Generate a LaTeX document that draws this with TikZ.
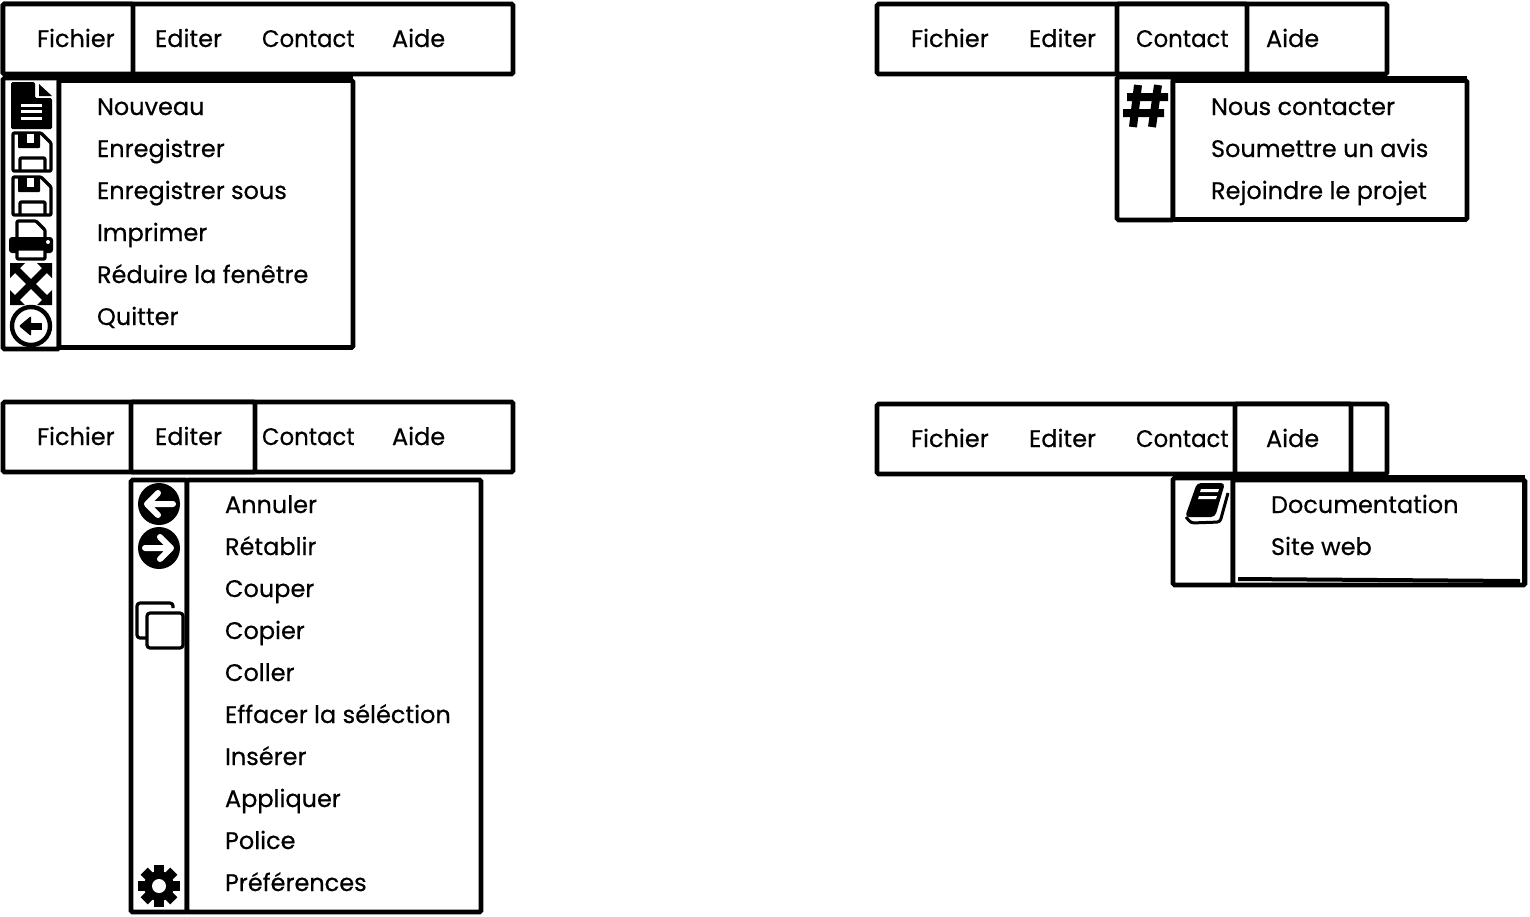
\documentclass[tikz,border=0pt]{standalone}
\usepackage{fontspec}
\setmainfont[FakeBold=0.5]{Poppins}
\newfontfamily\contactfont[FakeBold=0.5,FakeStretch=0.95]{Poppins}
\usetikzlibrary{positioning}
\tikzset{
  barbox/.style={draw, rectangle, line width=4.6pt, rounded corners=1.5pt, minimum width=510pt, minimum height=70pt, inner sep=0pt, outer sep=0pt, fill=white},
  tabbox/.style={draw, rectangle, line width=4.6pt, rounded corners=1.5pt, minimum height=70pt, inner sep=0pt, outer sep=0pt, fill=white},
  colbox/.style={draw, rectangle, line width=4.6pt, rounded corners=1.5pt, inner sep=0pt, outer sep=0pt, fill=white},
  thickline/.style={line width=5pt},
  barlbl/.style={font=\fontsize{24}{24}\selectfont, anchor=base west, inner sep=0pt, outer sep=0pt},
  contactlbl/.style={barlbl, font=\contactfont\fontsize{24}{24}\selectfont},
  item/.style={font=\fontsize{24}{24}\selectfont, inner sep=0pt, outer sep=0pt, text height=18pt, text depth=24pt},
  next/.style={below=0pt of #1.south west, anchor=north west},
  lineicon/.style={draw=black, line width=3.2pt, line join=round, rounded corners=1pt},
  pics/fileicon/.style={code={
    \fill[rounded corners=1.5pt] (-20,-23) -- (4,-23) -- (4,-7) -- (21,-7) -- (21,24) -- (-20,24) -- cycle;
    \fill (8,-21) -- (21,-9) -- (8,-9) -- cycle;
    \foreach \y in {-1,5,12} \fill[white] (-10,\y) rectangle (11,\y+3);
  }},
  pics/saveicon/.style={code={
    \draw[lineicon] (-18,-19) -- (10,-19) -- (20,-9) -- (20,19) -- (-18,19) -- cycle;
    \fill[rounded corners=1pt] (-13,-20) rectangle (9,-4);
    \fill[white] (-4,-18) rectangle (3,-9);
    \draw[lineicon] (-11,19) -- (-11,6) -- (14,6) -- (14,19);
  }},
  pics/printicon/.style={code={
    \draw[lineicon] (-14,0) -- (-14,-19) -- (5,-19) -- (14,-10) -- (14,0);
    \fill[rounded corners=3pt] (-22,-3) rectangle (22,13);
    \fill[white] (17,2) circle (2);
    \draw[lineicon, fill=white] (-14,9) rectangle (14,19);
  }},
  pics/expandicon/.style={code={
    \draw[line width=7pt] (-15,-15) -- (15,15) (-15,15) -- (15,-15);
    \fill (-21,-21) -- (-6,-21) -- (-21,-6) -- cycle;
    \fill (21,-21) -- (6,-21) -- (21,-6) -- cycle;
    \fill (-21,21) -- (-6,21) -- (-21,6) -- cycle;
    \fill (21,21) -- (6,21) -- (21,6) -- cycle;
  }},
  pics/quiticon/.style={code={
    \draw[line width=4.4pt] (0,0) circle (19);
    \draw[line width=7pt] (-3,0) -- (11,0);
    \fill[rounded corners=1pt] (-12,0) -- (0,-10) -- (0,10) -- cycle;
  }},
  pics/backicon/.style={code={
    \fill (0,0) circle (21);
    \draw[white, line width=6pt, line cap=round, line join=round] (14,0) -- (-11,0) (-1,-11) -- (-12,0) -- (-1,11);
  }},
  pics/forwardicon/.style={code={
    \fill (0,0) circle (21);
    \draw[white, line width=6pt, line cap=round, line join=round] (-14,0) -- (11,0) (1,-11) -- (12,0) -- (1,11);
  }},
  pics/copyicon/.style={code={
    \draw[lineicon, rounded corners=3pt] (14,-16) -- (14,-21) -- (-22,-21) -- (-22,14) -- (-13,14);
    \draw[lineicon, rounded corners=3pt] (-12,-11) rectangle (24,24);
  }},
  pics/gearicon/.style={code={
    \foreach \a in {0,45,135,90} \fill[rotate=\a] (-5,-21) rectangle (5,21);
    \fill (0,0) circle (15);
    \fill[white] (0,0) circle (7);
  }},
  pics/hashicon/.style={code={
    \draw[line width=8pt] (-8,-21) -- (-13,21) (12,-21) -- (6,21) (-19,-9) -- (22,-9) (-23,7) -- (18,7);
  }},
  pics/bookicon/.style={code={
    \draw[line width=3pt, rounded corners=3pt] (22,-10) -- (14,19) -- (-15,20) -- (-20,14);
    \fill[rounded corners=4pt] (-9,-20) -- (19,-20) -- (9,14) -- (-21,14) -- cycle;
    \fill[white] (-5,-14) -- (13,-14) -- (12,-11) -- (-6,-11) -- cycle;
    \fill[white] (-7,-7) -- (11,-7) -- (10,-4) -- (-8,-4) -- cycle;
  }},
}

\begin{document}
\begin{tikzpicture}[x=1pt, y=-1pt]
\useasboundingbox (0,0) rectangle (1530,916);
% fichier
\node[colbox, minimum width=56pt, minimum height=271pt] (colA) at (31,213.5) {};
\node[colbox, minimum width=294pt, minimum height=267pt] (boxA) at (206,214) {};
\draw[thickline] ([yshift=2.5pt]boxA.north west) -- ([yshift=2.5pt]boxA.north east);
\node[barbox] (barA) at (258,39) {};
\node[tabbox, minimum width=130pt] (tabA) at (68,39) {};
\node[barlbl] (fichierA) at (37,47) {Fichier};
\node[barlbl] (editerA) at (155,47) {Editer};
\node[contactlbl] (contactA) at (262,47) {Contact};
\node[barlbl] (aideA) at (392,47) {Aide};
\node[item, anchor=north west] (nouveau) at (97,97) {Nouveau};
\node[item, next=nouveau] (enreg) {Enregistrer};
\node[item, next=enreg] (enregsous) {Enregistrer sous};
\node[item, next=enregsous] (imprimer) {Imprimer};
\node[item, next=imprimer] (reduire) {Réduire la fenêtre};
\node[item, next=reduire] (quitter) {Quitter};
\pic at (31,105) {fileicon};
\pic at (31,152) {saveicon};
\pic at (31,196) {saveicon};
\pic at (31,240) {printicon};
\pic at (31,284) {expandicon};
\pic at (31,326) {quiticon};
% contact
\node[colbox, minimum width=56pt, minimum height=143pt] (colB) at (1145,148.5) {};
\node[colbox, minimum width=294pt, minimum height=139pt] (boxB) at (1320,150) {};
\draw[thickline] ([yshift=2.5pt]boxB.north west) -- ([yshift=2.5pt]boxB.north east);
\node[barbox] (barB) at (1132,39) {};
\node[tabbox, minimum width=130pt] (tabB) at (1182,39) {};
\node[barlbl] (fichierB) at (911,47) {Fichier};
\node[barlbl] (editerB) at (1029,47) {Editer};
\node[contactlbl] (contactB) at (1136,47) {Contact};
\node[barlbl] (aideB) at (1266,47) {Aide};
\node[item, anchor=north west] (contacter) at (1211,97) {Nous contacter};
\node[item, next=contacter] (avis) {Soumettre un avis};
\node[item, next=avis] (projet) {Rejoindre le projet};
\pic at (1146,106) {hashicon};
% editer
\node[colbox, minimum width=56pt, minimum height=432pt] (colC) at (159,696) {};
\node[colbox, minimum width=294pt, minimum height=432pt] (boxC) at (334,696) {};
\node[barbox] (barC) at (258,437) {};
\node[tabbox, minimum width=124pt] (tabC) at (193,437) {};
\node[barlbl] (fichierC) at (37,445) {Fichier};
\node[barlbl] (editerC) at (155,445) {Editer};
\node[contactlbl] (contactC) at (262,445) {Contact};
\node[barlbl] (aideC) at (392,445) {Aide};
\node[item, anchor=north west] (annuler) at (225,495) {Annuler};
\node[item, next=annuler] (retablir) {Rétablir};
\node[item, next=retablir] (couper) {Couper};
\node[item, next=couper] (copier) {Copier};
\node[item, next=copier] (coller) {Coller};
\node[item, next=coller] (effacer) {Effacer la séléction};
\node[item, next=effacer] (inserer) {Insérer};
\node[item, next=inserer] (appliquer) {Appliquer};
\node[item, next=appliquer] (police) {Police};
\node[item, next=police] (preferences) {Préférences};
\pic at (159,504) {backicon};
\pic at (159,548) {forwardicon};
\pic at (159,624) {copyicon};
\pic at (159,886) {gearicon};
% aide
\node[colbox, minimum width=60pt, minimum height=107pt] (colD) at (1203,531.5) {};
\node[colbox, minimum width=292pt, minimum height=105pt] (boxD) at (1379,532.5) {};
\draw[thickline] ([yshift=2.5pt]boxD.north west) -- ([yshift=2.5pt]boxD.north east);
\node[barbox] (barD) at (1132,439) {};
\node[tabbox, minimum width=116pt] (tabD) at (1293,439) {};
\node[barlbl] (fichierD) at (911,447) {Fichier};
\node[barlbl] (editerD) at (1029,447) {Editer};
\node[contactlbl] (contactD) at (1136,447) {Contact};
\node[barlbl] (aideD) at (1266,447) {Aide};
\node[item, anchor=north west] (documentation) at (1271,495) {Documentation};
\node[item, next=documentation] (siteweb) {Site web};
\pic at (1206,503) {bookicon};
\fill (boxD.south west) ++(5,-8) -- ++(282,2) -- ++(0,4) -- ++(-282,-2) -- cycle;
\draw[thickline] ([xshift=-1pt]boxD.north east) -- ([xshift=-1pt]boxD.south east);
\end{tikzpicture}
\end{document}
